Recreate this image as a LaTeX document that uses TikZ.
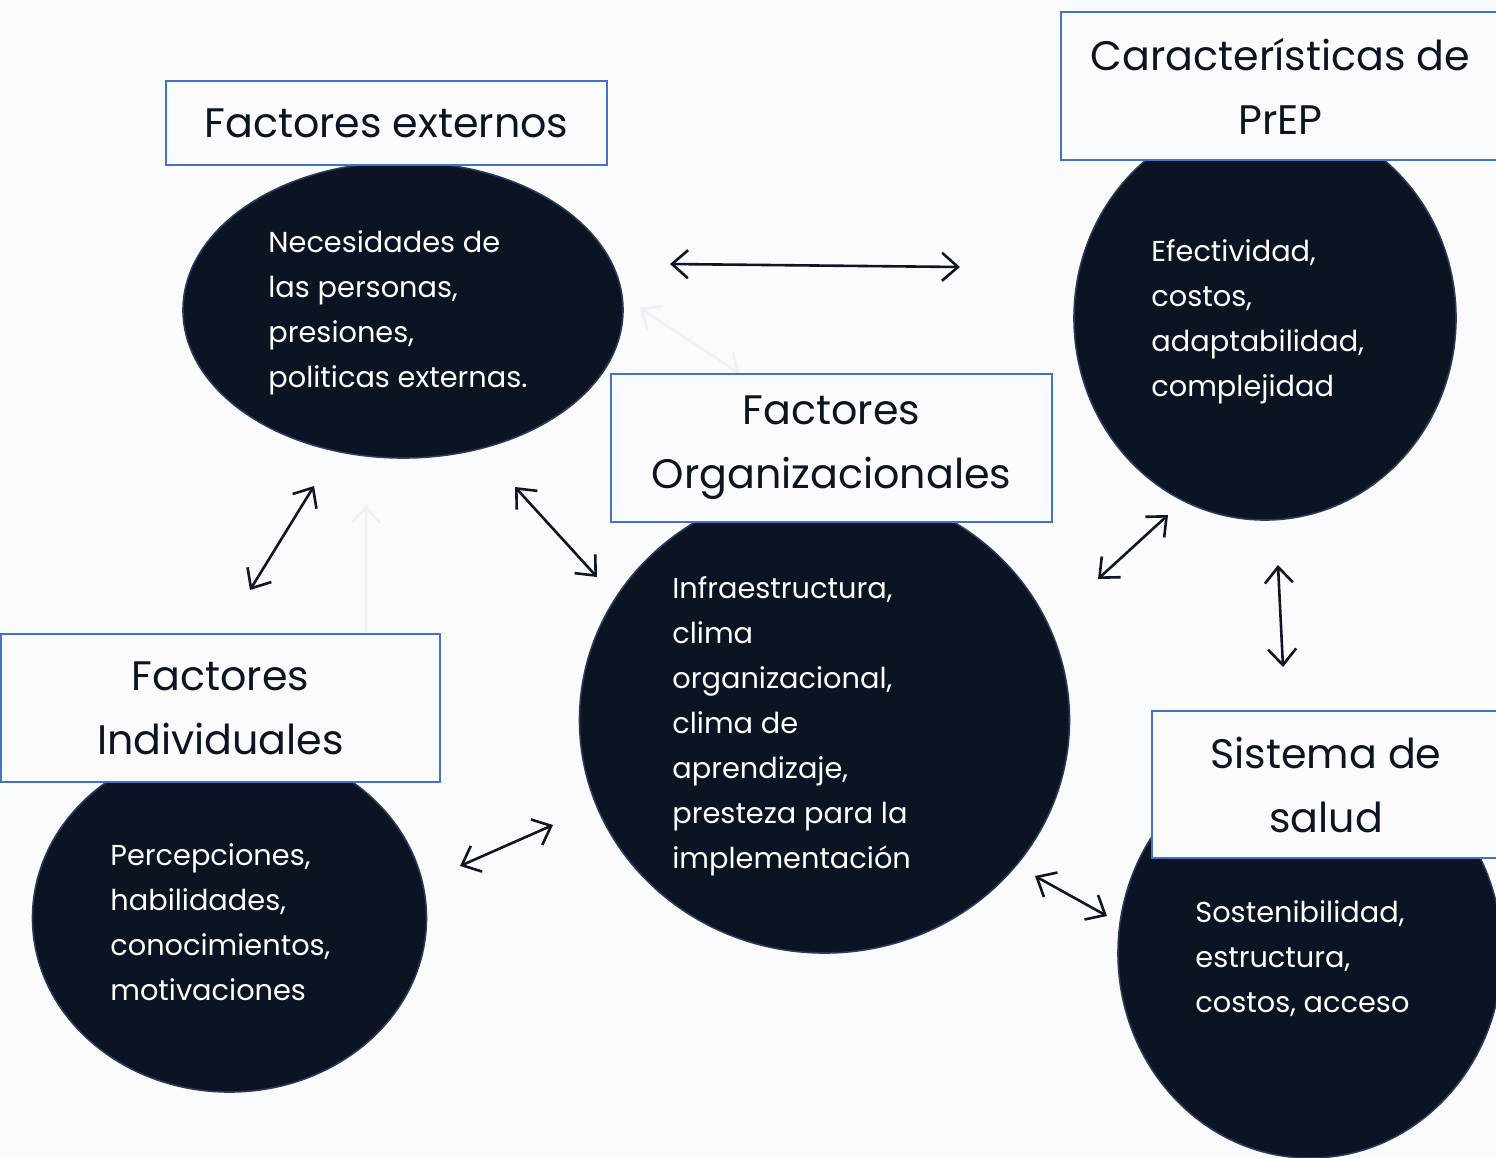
\documentclass[tikz,border=0pt]{standalone}
\usepackage{fontspec}
\setmainfont{Poppins}
\usetikzlibrary{arrows.meta,shapes.geometric}
\definecolor{bg}{HTML}{FAFBFD}
\definecolor{navy}{HTML}{0C1423}
\definecolor{navyline}{HTML}{2B3A5A}
\definecolor{boxblue}{HTML}{4472C4}
\definecolor{faint}{HTML}{EDF0F6}
\definecolor{arr}{HTML}{0E1626}
\tikzset{
  blob/.style={ellipse, fill=navy, draw=navyline, line width=0.8pt, inner sep=0pt},
  title/.style={draw=boxblue, fill=bg, line width=1.3pt, inner sep=0pt, align=center, font=\fontsize{20.6}{32}\selectfont, text=navy},
  body/.style={text=white, align=left, anchor=north west, inner sep=0pt, font=\fontsize{14.4}{22.5}\selectfont},
  barb/.tip={Straight Barb[length=8pt,width=14pt,line width=1.3pt]},
  link/.style={draw=arr, line width=1.3pt, barb-barb},
  ghost/.style={draw=faint, line width=1.3pt},
}
\begin{document}
\begin{tikzpicture}[x=0.5pt,y=-0.5pt]
\fill[bg] (0,0) rectangle (1496,1158);
\useasboundingbox (0,0) rectangle (1496,1158);
% faint arrows (behind)
\coordinate (g1a) at (366,632); \coordinate (g1b) at (366,505);
\coordinate (g2a) at (740,374); \coordinate (g2b) at (640,308);
\draw[ghost, -barb] (g1a) -- (g1b);
\draw[ghost, barb-barb] (g2a) -- (g2b);
% ellipses
\node[blob, minimum width=220pt, minimum height=148pt] (eExt) at (403,310) {};
\node[blob, minimum width=191pt, minimum height=202pt] (ePrep) at (1265,318) {};
\node[blob, minimum width=245pt, minimum height=233pt] (eOrg) at (824.5,720) {};
\node[blob, minimum width=197pt, minimum height=174pt] (eInd) at (229.5,918) {};
\node[blob, minimum width=192pt, minimum height=205pt] (eSal) at (1310,953) {};
% title boxes
\node[title, minimum width=220.5pt, minimum height=42pt] (tExt) at (386.5,123) {\raisebox{-1pt}{Factores externos}};
\node[title, minimum width=219.5pt, minimum height=74pt] (tPrep) at (1280.5,86) {Características de\\PrEP};
\node[title, minimum width=220.5pt, minimum height=74pt] (tOrg) at (831.5,448) {Factores\\Organizacionales};
\node[title, minimum width=219.5pt, minimum height=74pt] (tInd) at (220.5,708) {Factores\\Individuales};
\node[title, minimum width=174pt, minimum height=73.5pt] (tSal) at (1326,784.5) {Sistema de\\salud};
% body texts
\node[body] (bExt) at (268,230) {Necesidades de\\las personas,\\presiones,\\politicas externas.};
\node[body] (bPrep) at (1151,239) {Efectividad,\\costos,\\adaptabilidad,\\complejidad};
\node[body] (bOrg) at (672,576) {Infraestructura,\\clima\\organizacional,\\clima de\\aprendizaje,\\presteza para la\\implementación};
\node[body] (bInd) at (110,843) {Percepciones,\\habilidades,\\conocimientos,\\motivaciones};
\node[body] (bSal) at (1195,900) {Sostenibilidad,\\estructura,\\costos, acceso};
% connectors
\coordinate (a1s) at (670,264); \coordinate (a1e) at (960,267);
\coordinate (a2s) at (250,590); \coordinate (a2e) at (314,486);
\coordinate (a3s) at (515,487); \coordinate (a3e) at (597,577);
\coordinate (a4s) at (1098,579); \coordinate (a4e) at (1168,515);
\coordinate (a5s) at (1278,565); \coordinate (a5e) at (1283,667);
\coordinate (a6s) at (460,866); \coordinate (a6e) at (553,825);
\coordinate (a7s) at (1035,876); \coordinate (a7e) at (1107,916);
\draw[link] (a1s) -- (a1e);
\draw[link] (a2s) -- (a2e);
\draw[link] (a3s) -- (a3e);
\draw[link] (a4s) -- (a4e);
\draw[link] (a5s) -- (a5e);
\draw[link] (a6s) -- (a6e);
\draw[link] (a7s) -- (a7e);
\end{tikzpicture}
\end{document}
